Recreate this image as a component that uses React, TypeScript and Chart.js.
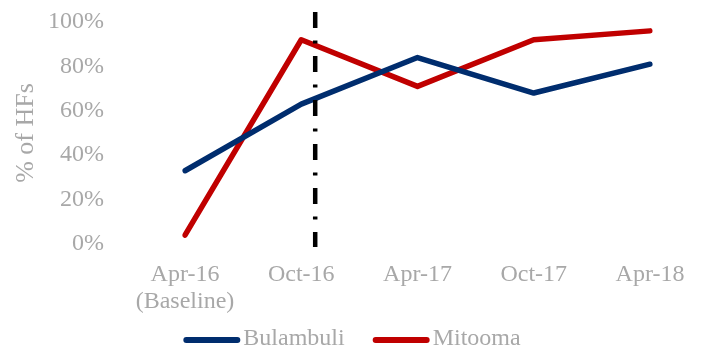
import React, { useEffect, useRef } from "react";
import { Chart, registerables } from "chart.js";

Chart.register(...registerables);

// Survey rounds (x-axis); the baseline label spans two lines
const periods: (string | string[])[] = [
  ["Apr-16", "(Baseline)"],
  "Oct-16",
  "Apr-17",
  "Oct-17",
  "Apr-18",
];

// % of health facilities, by district
const bulambuli = [33, 63, 84, 68, 81];
const mitooma = [4, 92, 71, 92, 96];

// Intervention start, in category-index units (just after Oct-16),
// and the value range the marker spans
const interventionAt = 1.12;
const interventionSpan = [104.5, -1.4];

const yTicks = [0, 20, 40, 60, 80, 100];

const FONT = "'Liberation Serif', 'Times New Roman', serif";
const GREY = "#a8a8a8";
const NAVY = "#002d6e";
const RED = "#c00000";

const interventionLine = {
  id: "interventionLine",
  afterDatasetsDraw(chart: any) {
    const { ctx, scales } = chart;
    const x = scales.x.getPixelForValue(interventionAt);
    const y0 = scales.y.getPixelForValue(interventionSpan[0]);
    const y1 = scales.y.getPixelForValue(interventionSpan[1]);
    ctx.save();
    ctx.strokeStyle = "#000000";
    ctx.lineWidth = 4.5;
    ctx.lineCap = "butt";
    ctx.setLineDash([16, 12.5, 3, 12.5]);
    ctx.beginPath();
    ctx.moveTo(x, y0);
    ctx.lineTo(x, y1);
    ctx.stroke();
    ctx.restore();
  },
};

// Legend centred under the whole figure: a short line sample, then the name
const seriesLegend = {
  id: "seriesLegend",
  afterDraw(chart: any) {
    const { ctx } = chart;
    const sample = 57;
    const textGap = 3;
    const itemGap = 28;
    const lineY = chart.height - 14;
    ctx.save();
    ctx.font = `24px ${FONT}`;
    const items = chart.data.datasets.map((ds: any) => ({
      label: ds.label as string,
      color: ds.borderColor as string,
      w: sample + textGap + ctx.measureText(ds.label).width,
    }));
    const total =
      items.reduce((s: number, it: any) => s + it.w, 0) +
      itemGap * (items.length - 1);
    let x = chart.width / 2 - total / 2;
    for (const it of items) {
      ctx.strokeStyle = it.color;
      ctx.lineWidth = 6;
      ctx.lineCap = "round";
      ctx.beginPath();
      ctx.moveTo(x + 3, lineY);
      ctx.lineTo(x + sample - 3, lineY);
      ctx.stroke();
      ctx.fillStyle = GREY;
      ctx.textAlign = "left";
      ctx.textBaseline = "middle";
      ctx.fillText(it.label, x + sample + textGap, lineY - 1);
      x += it.w + itemGap;
    }
    ctx.restore();
  },
};

export default function App() {
  const canvasRef = useRef<HTMLCanvasElement | null>(null);

  useEffect(() => {
    if (!canvasRef.current) return;
    const line = (label: string, data: number[], color: string) => ({
      label,
      data,
      borderColor: color,
      backgroundColor: color,
      borderWidth: 5.5,
      borderCapStyle: "round" as const,
      borderJoinStyle: "round" as const,
      pointRadius: 0,
      tension: 0,
    });
    const chart = new Chart(canvasRef.current, {
      type: "line",
      data: {
        labels: periods,
        datasets: [line("Bulambuli", bulambuli, NAVY), line("Mitooma", mitooma, RED)],
      },
      options: {
        animation: false,
        responsive: true,
        maintainAspectRatio: false,
        layout: { padding: { top: 22, right: 54, bottom: 38.5, left: 0 } },
        plugins: {
          tooltip: { enabled: false },
          legend: { display: false },
        },
        scales: {
          x: {
            offset: false,
            afterFit: (scale: any) => {
              scale.height = 71.5;
            },
            grid: { display: false, drawTicks: false },
            border: { display: false },
            ticks: {
              color: GREY,
              padding: 17.5,
              maxRotation: 0,
              autoSkip: false,
              font: { family: FONT, size: 24, lineHeight: 1.13 },
            },
          },
          y: {
            min: 0,
            max: 100,
            afterBuildTicks: (scale: any) => {
              scale.ticks = yTicks.map((v) => ({ value: v }));
            },
            afterFit: (scale: any) => {
              scale.width = 185;
              scale.paddingTop = 0;
              scale.paddingBottom = 0;
            },
            grid: { display: false, drawTicks: false },
            border: { display: false },
            ticks: {
              color: GREY,
              padding: 81,
              autoSkip: false,
              font: { family: FONT, size: 24 },
              callback: (v: any) => `${v}%`,
            },
            title: {
              display: true,
              text: "% of HFs",
              color: GREY,
              padding: { top: 12, bottom: 0 },
              font: { family: FONT, size: 26, lineHeight: 1.1 },
            },
          },
        },
      },
      plugins: [interventionLine, seriesLegend],
    });
    return () => chart.destroy();
  }, []);

  return (
    <div style={{ position: "fixed", left: 0, top: 0, width: 704, height: 354 }}>
      <canvas ref={canvasRef} />
    </div>
  );
}
